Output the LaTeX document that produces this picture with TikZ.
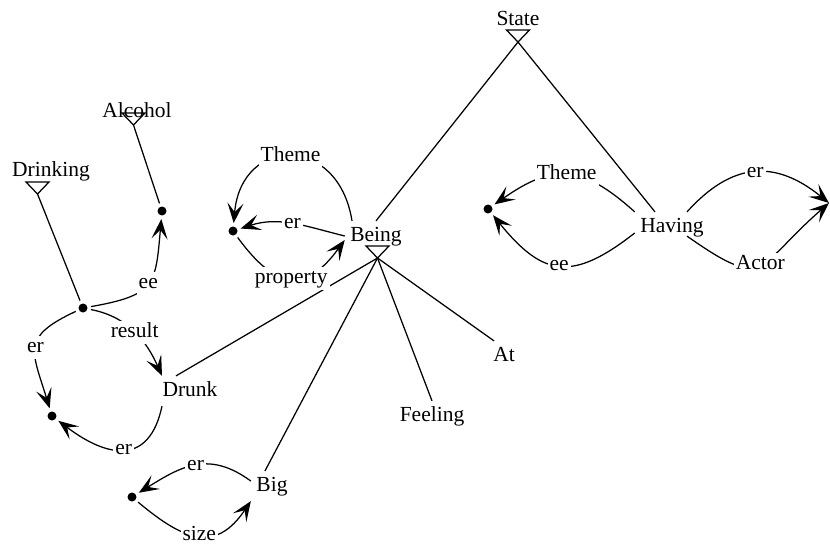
\documentclass[tikz,border=0pt]{standalone}
\usepackage{fontspec}
\setmainfont{Liberation Serif}
\usetikzlibrary{arrows.meta}

% inverted triangle under a type name; #2 names its lower tip
\newcommand{\typemark}[2]{%
  \draw #1 ++(-11.5,0) -- ++(23,0) -- ++(-11.5,-12) coordinate (#2) -- cycle;}

\begin{document}
\begin{tikzpicture}[x=1pt, y=1pt, line width=1.25pt,
    every node/.style={font=\fontsize{21.5pt}{25pt}\selectfont, text height=14.5pt, text depth=4.5pt},
    concept/.style={inner sep=5pt, anchor=base},
    lbl/.style={inner sep=2pt, fill=white},
    dot/.style={circle, fill, inner sep=0pt, text height=0pt, text depth=0pt, minimum size=9pt, outer sep=3.5pt},
    rel/.style={-{Stealth[length=20pt, width=16pt, inset=9pt]}}]
    \useasboundingbox (0,0) rectangle (830,-547);
    %\draw[gray, dashed] (0,0) grid[step=50] (830,-547);

    % concepts
    \node[concept] (State) at (518,-25) {State};
    \node[concept] (Alcohol) at (137,-117) {Alcohol};
    \node[concept] (Drinking) at (51,-176) {Drinking};
    \node[concept] (Being) at (376,-241) {Being};
    \node[concept] (Having) at (672,-232) {Having};
    \node[concept] (Drunk) at (190,-396) {Drunk};
    \node[concept] (At) at (504,-361) {At};
    \node[concept] (Feeling) at (432,-421) {Feeling};
    \node[concept] (Big) at (272,-491) {Big};

    % individuals
    \node[dot] (d1) at (83,-308) {};
    \node[dot] (d2) at (162,-211) {};
    \node[dot] (d3) at (52,-416) {};
    \node[dot] (d4) at (233,-231) {};
    \node[dot] (d5) at (132,-497) {};
    \node[dot] (d6) at (488,-209) {};
    \coordinate (far) at (829,-203);

    % types
    \typemark{([yshift=-5pt]State.base)}{State-t}
    \typemark{([shift={(-3.5pt,4pt)}]Alcohol.base)}{Alcohol-t}
    \typemark{([shift={(-13.5pt,-6pt)}]Drinking.base)}{Drinking-t}
    \typemark{([shift={(1.5pt,-5pt)}]Being.base)}{Being-t}

    \draw (State-t) -- (Being.north);
    \draw (State-t) -- ([xshift=-17pt]Having.north);
    \draw (Being-t) -- ([xshift=-14pt]Drunk.north);
    \draw (Being-t) -- ([xshift=-7pt]Big.north);
    \draw (Being-t) -- (Feeling.north);
    \draw (Being-t) -- ([xshift=-10pt]At.north);
    \draw (Drinking-t) -- (d1);
    \draw (Alcohol-t) -- (d2);

    % relations
    \draw[rel] (d1) to[out=10, in=-95, looseness=1.5] node[lbl] {ee} (d2);
    \draw[rel] (d1) to[out=-11, in=114] node[lbl] {result} ([xshift=-28pt]Drunk.north);
    \draw[rel] (d1) to[out=205, in=107, looseness=1.55] node[lbl] {er} (d3);
    \draw[rel] ([xshift=-28pt]Drunk.south) to[out=-102, in=-37, looseness=1.5] node[lbl] {er} (d3);

    \draw[rel] (Being.west) to[out=166, in=18] node[lbl] {er} (d4);
    \draw[rel] ([xshift=-24pt]Being.north) to[out=99, in=85, looseness=1.9] node[lbl] {Theme} (d4);
    \draw[rel] (d4) to[out=-54, in=-126, looseness=1.56] node[lbl] {property} ([yshift=-4pt]Being.west);

    \draw[rel] ([yshift=5pt]Big.west) to[out=144, in=32, looseness=1.17] node[lbl] {er} (d5);
    \draw[rel] (d5) to[out=-40, in=-124, looseness=1.4] node[lbl] {size} (Big.south west);

    \draw[rel] (Having.north west) to[out=138, in=35, looseness=1.3] node[lbl] {Theme} (d6);
    \draw[rel] ([yshift=-6pt]Having.west) to[out=218, in=-51, looseness=1.42] node[lbl] {ee} (d6);
    \draw[rel] ([xshift=15pt]Having.north) to[out=48, in=141, looseness=1.23] node[lbl] {er} (far);
    \draw[rel] ([xshift=15pt,yshift=6pt]Having.south) to[out=-35, in=221, looseness=1.72] node[lbl] {Actor} (far);
\end{tikzpicture}
\end{document}
